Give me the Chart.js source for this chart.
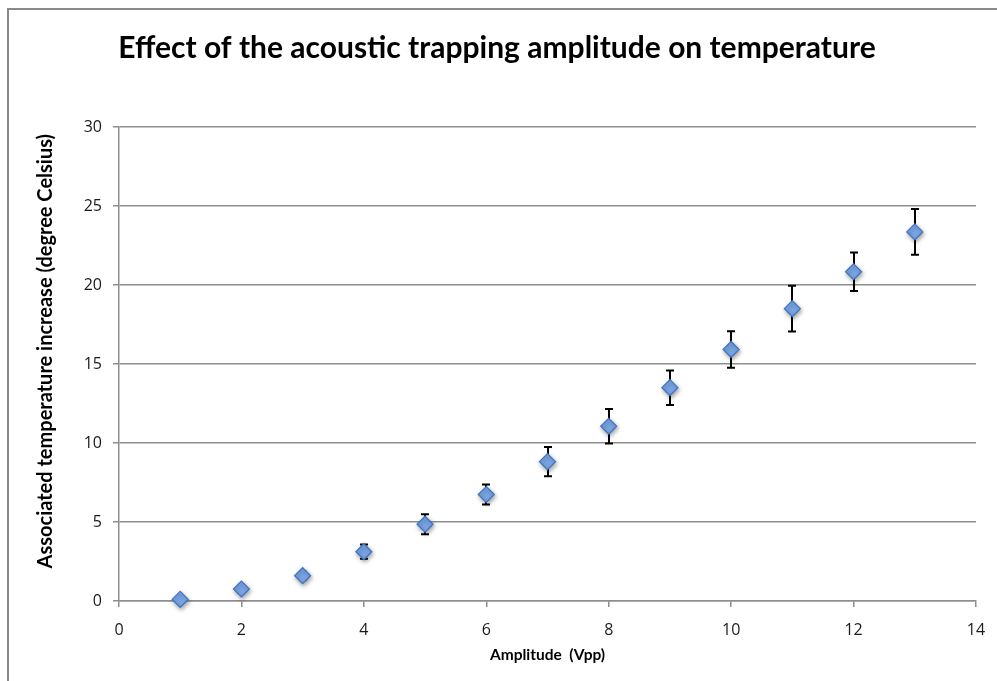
<!DOCTYPE html>
<html>
<head>
<meta charset="utf-8">
<script src="https://cdn.jsdelivr.net/npm/chart.js@4.4.1/dist/chart.umd.min.js"></script>
<style>
  html, body { margin: 0; padding: 0; background: #ffffff; }
  #wrap { width: 997px; height: 681px; position: relative; }
</style>
</head>
<body>
<div id="wrap"><canvas id="chart" width="997" height="681"></canvas></div>
<script>
// Drive amplitude (Vpp)
const amplitude = [1, 2, 3, 4, 5, 6, 7, 8, 9, 10, 11, 12, 13];
// Mean temperature increase (°C)
const tempRise = [0.1, 0.76, 1.6, 3.12, 4.86, 6.74, 8.82, 11.06, 13.5, 15.92, 18.5, 20.84, 23.36];
// Error half-width (°C)
const tempError = [0.1, 0.2, 0.25, 0.45, 0.63, 0.64, 0.92, 1.09, 1.09, 1.15, 1.45, 1.22, 1.45];
// Axis tick values
const xTicks = [0, 2, 4, 6, 8, 10, 12, 14];
const yTicks = [0, 5, 10, 15, 20, 25, 30];

const chartTitle = 'Effect of the acoustic trapping amplitude on temperature';
const xTitle = 'Amplitude  (Vpp)';
const yTitle = 'Associated temperature increase (degree Celsius)';

const GRID = '#8e8e8e';

// White page with the outer frame of the chart object
const frame = {
  id: 'frame',
  beforeDraw(chart) {
    const ctx = chart.ctx;
    ctx.save();
    ctx.fillStyle = '#ffffff';
    ctx.fillRect(0, 0, chart.width, chart.height);
    ctx.strokeStyle = '#8a8a8a';
    ctx.lineWidth = 2;
    ctx.strokeRect(8, 9, chart.width + 50, chart.height + 50);
    ctx.restore();
  }
};

// Vertical error bars with caps, drawn underneath the markers
const errorBars = {
  id: 'errorBars',
  beforeDatasetsDraw(chart) {
    const { ctx, scales: { x, y } } = chart;
    ctx.save();
    ctx.strokeStyle = '#000000';
    ctx.lineWidth = 2;
    amplitude.forEach((a, i) => {
      const px = Math.round(x.getPixelForValue(a));
      const top = y.getPixelForValue(tempRise[i] + tempError[i]);
      const bot = y.getPixelForValue(tempRise[i] - tempError[i]);
      ctx.beginPath();
      ctx.moveTo(px, top); ctx.lineTo(px, bot);
      ctx.moveTo(px - 4, top); ctx.lineTo(px + 4, top);
      ctx.moveTo(px - 4, bot); ctx.lineTo(px + 4, bot);
      ctx.stroke();
    });
    ctx.restore();
  }
};

// Soft drop shadow under the markers
const markerShadow = {
  id: 'markerShadow',
  beforeDatasetDraw(chart) {
    const ctx = chart.ctx;
    ctx.save();
    ctx.shadowColor = 'rgba(0,0,0,0.35)';
    ctx.shadowBlur = 4;
    ctx.shadowOffsetX = 1;
    ctx.shadowOffsetY = 2;
  },
  afterDatasetDraw(chart) {
    chart.ctx.restore();
  }
};

// Rotated y-axis caption
const yCaption = {
  id: 'yCaption',
  afterDraw(chart) {
    const ctx = chart.ctx;
    const area = chart.chartArea;
    ctx.save();
    ctx.translate(46, area.top + (area.bottom - area.top) * 0.473);
    ctx.rotate(-Math.PI / 2);
    ctx.font = 'bold 20px Lato';
    ctx.fillStyle = '#000000';
    ctx.textAlign = 'center';
    ctx.textBaseline = 'middle';
    ctx.fillText(yTitle, 0, 0);
    ctx.restore();
  }
};

new Chart(document.getElementById('chart'), {
  type: 'scatter',
  data: {
    datasets: [{
      label: 'Temperature increase',
      data: amplitude.map((a, i) => ({ x: a, y: tempRise[i] })),
      pointStyle: 'rectRot',
      pointRadius: 8,
      pointHoverRadius: 8,
      backgroundColor: '#79a6e4',
      borderColor: '#3f72c2',
      borderWidth: 1.2,
      clip: false
    }]
  },
  options: {
    responsive: false,
    animation: false,
    devicePixelRatio: 1,
    layout: { padding: { left: 18, right: 21, top: 0, bottom: 0 } },
    plugins: {
      legend: { display: false },
      tooltip: { enabled: false },
      title: {
        display: true,
        text: chartTitle,
        color: '#000000',
        font: { family: 'Lato', size: 30, weight: 'bold', lineHeight: 1.2 },
        padding: { top: 30, bottom: 61 }
      }
    },
    scales: {
      x: {
        type: 'linear',
        min: 0,
        max: 14,
        afterBuildTicks(scale) { scale.ticks = xTicks.map(v => ({ value: v })); },
        afterFit(scale) {
          scale.height = 80;
          scale.paddingLeft = 0;
          scale.paddingRight = 0;
        },
        grid: {
          display: true,
          drawOnChartArea: false,
          drawTicks: true,
          tickLength: 6,
          color: GRID,
          lineWidth: 1.5
        },
        border: { display: true, color: GRID, width: 1.5 },
        ticks: {
          color: '#1a1a1a',
          font: { family: 'Open Sans', size: 16 },
          padding: 14,
          maxRotation: 0
        },
        title: {
          display: true,
          text: xTitle,
          color: '#000000',
          font: { family: 'Lato', size: 15.5, weight: 'bold' },
          padding: { top: 0, bottom: 17 }
        }
      },
      y: {
        type: 'linear',
        min: 0,
        max: 30,
        afterBuildTicks(scale) { scale.ticks = yTicks.map(v => ({ value: v })); },
        afterFit(scale) {
          scale.width = 101;
          scale.paddingTop = 0;
          scale.paddingBottom = 0;
        },
        grid: {
          display: true,
          drawTicks: true,
          tickLength: 6,
          color: GRID,
          lineWidth: 1.5
        },
        border: { display: true, color: GRID, width: 1.5 },
        ticks: {
          color: '#1a1a1a',
          font: { family: 'Open Sans', size: 16 },
          padding: 11
        }
      }
    }
  },
  plugins: [frame, errorBars, markerShadow, yCaption]
});
</script>
</body>
</html>
